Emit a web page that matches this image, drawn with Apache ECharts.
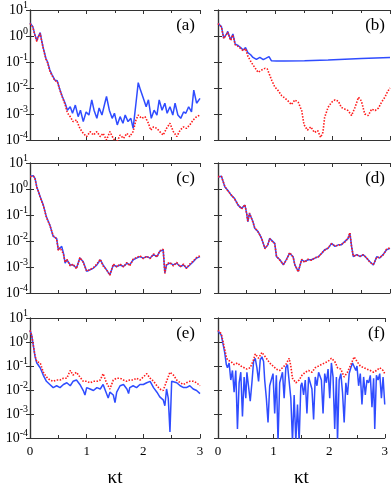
<!DOCTYPE html>
<html>
<head>
<meta charset="utf-8">
<script src="https://cdn.jsdelivr.net/npm/echarts@6/dist/echarts.min.js"></script>
<style>
html,body{margin:0;padding:0;background:#fff}
#main{width:391px;height:489px}
</style>
</head>
<body>
<div id="main"></div>
<script>
// panel tags and tick labels
var panelTags = ['(a)', '(b)', '(c)', '(d)', '(e)', '(f)'];
var xTicks = [0, 1, 2, 3];
var yTicks = [1e-4, 1e-3, 1e-2, 1e-1, 1, 10];
var xName = 'κt';

// [kappa t, value]
var aBlue = [[0,3.2],[0.05,2.3],[0.08,1.26],[0.12,0.66],[0.14,0.89],[0.18,1.35],[0.21,0.6],[0.235,0.34],[0.28,0.14],[0.31,0.1],[0.35,0.049],[0.39,0.032],[0.44,0.02],[0.48,0.019],[0.53,8.3e-3],[0.57,4.7e-3],[0.62,2.6e-3],[0.66,1.4e-3],[0.71,1.9e-3],[0.75,1.07e-3],[0.8,2.2e-3],[0.85,7.9e-4],[0.89,1.4e-3],[0.94,5.1e-4],[0.99,1.2e-3],[1.04,9.1e-4],[1.09,3.5e-3],[1.13,1.4e-3],[1.18,6.8e-4],[1.22,1.7e-3],[1.27,9.1e-4],[1.32,2.6e-3],[1.35,4.7e-3],[1.4,1.4e-3],[1.45,6.8e-4],[1.49,1.07e-3],[1.54,3.8e-4],[1.59,7.9e-4],[1.64,4.4e-4],[1.68,9.1e-4],[1.73,5.1e-4],[1.78,6.8e-4],[1.82,2.8e-4],[1.87,2.6e-3],[1.91,0.016],[1.95,8.3e-3],[2.0,4e-3],[2.05,1.9e-3],[2.09,3.5e-3],[2.14,6.8e-4],[2.19,1.4e-3],[2.24,9.1e-4],[2.28,3.5e-3],[2.33,1.4e-3],[2.38,2.6e-3],[2.42,1.07e-3],[2.47,1.9e-3],[2.52,9.1e-4],[2.56,2.6e-3],[2.61,9.1e-4],[2.66,6.8e-4],[2.71,1.2e-3],[2.75,1.07e-3],[2.8,1.9e-3],[2.85,1.2e-3],[2.89,8.3e-3],[2.94,2.6e-3],[3.0,4e-3]];
var aRed = [[0,3.0],[0.05,2.2],[0.08,1.2],[0.12,0.62],[0.14,0.85],[0.18,1.25],[0.21,0.58],[0.235,0.32],[0.28,0.13],[0.31,0.095],[0.35,0.045],[0.39,0.03],[0.44,0.019],[0.48,0.018],[0.53,8e-3],[0.57,4.5e-3],[0.62,2.3e-3],[0.66,1.1e-3],[0.71,7.9e-4],[0.76,5.1e-4],[0.82,5.9e-4],[0.88,2.8e-4],[0.94,1.8e-4],[1.0,1.35e-4],[1.06,2.1e-4],[1.12,1.55e-4],[1.18,2.1e-4],[1.24,1.35e-4],[1.29,1.8e-4],[1.35,1e-4],[1.41,2.1e-4],[1.47,1.15e-4],[1.53,8e-5],[1.59,1.55e-4],[1.65,1.15e-4],[1.71,1.8e-4],[1.76,1.35e-4],[1.82,2.1e-4],[1.87,5.9e-4],[1.91,9.1e-4],[1.97,6.8e-4],[2.03,7.9e-4],[2.09,4.4e-4],[2.13,2.4e-4],[2.18,3.2e-4],[2.24,2.8e-4],[2.29,2.1e-4],[2.35,1.55e-4],[2.41,2.8e-4],[2.47,4.4e-4],[2.53,2.1e-4],[2.59,1.35e-4],[2.65,2.4e-4],[2.71,3.2e-4],[2.76,2.8e-4],[2.82,3.8e-4],[2.88,5.9e-4],[2.94,7.9e-4],[3.0,9.1e-4]];

var bBlue = [[0,3.1],[0.06,2.3],[0.1,0.83],[0.15,1.2],[0.17,1.5],[0.22,0.71],[0.26,1.2],[0.3,0.49],[0.35,0.43],[0.4,0.35],[0.44,0.29],[0.48,0.36],[0.52,0.23],[0.57,0.19],[0.61,0.15],[0.67,0.126],[0.73,0.15],[0.79,0.123],[0.84,0.14],[0.89,0.16],[0.93,0.112],[1.02,0.11],[1.16,0.11],[1.51,0.112],[1.92,0.12],[2.5,0.135],[3.0,0.15]];
var bRed = [[0,3.0],[0.06,2.2],[0.1,0.8],[0.15,1.15],[0.17,1.4],[0.22,0.68],[0.26,1.1],[0.3,0.46],[0.35,0.4],[0.4,0.32],[0.44,0.27],[0.48,0.33],[0.52,0.17],[0.58,0.098],[0.64,0.062],[0.7,0.04],[0.76,0.049],[0.82,0.057],[0.86,0.054],[0.9,0.032],[0.94,0.019],[0.99,0.011],[1.05,7.9e-3],[1.11,5.1e-3],[1.16,4.2e-3],[1.22,3.2e-3],[1.28,2.3e-3],[1.34,3.5e-3],[1.4,2.8e-3],[1.46,1.35e-3],[1.5,3.9e-4],[1.56,2.4e-4],[1.62,3.2e-4],[1.68,1.95e-4],[1.74,2.3e-4],[1.79,1.26e-4],[1.83,1.95e-4],[1.86,7.4e-4],[1.92,1.8e-3],[1.98,2.8e-3],[2.04,3.5e-3],[2.1,3.1e-3],[2.15,1.8e-3],[2.21,1.55e-3],[2.27,1.35e-3],[2.33,8.7e-4],[2.39,1.8e-3],[2.45,4.4e-3],[2.5,3.2e-3],[2.56,1e-3],[2.62,8.7e-4],[2.68,1.55e-3],[2.74,1.35e-3],[2.8,1.7e-3],[2.85,2.8e-3],[2.91,4.4e-3],[2.96,7.4e-3],[3.0,0.01]];

var cBlue = [[0,3.1],[0.06,3.2],[0.09,2.5],[0.12,1.2],[0.15,0.78],[0.18,0.5],[0.21,0.43],[0.235,0.24],[0.29,0.085],[0.35,0.041],[0.41,0.015],[0.44,0.017],[0.47,0.0126],[0.5,4.6e-3],[0.53,5.2e-3],[0.56,6.2e-3],[0.59,3.4e-3],[0.62,1.4e-3],[0.65,1.9e-3],[0.71,1.2e-3],[0.76,1.2e-3],[0.82,9.1e-4],[0.88,2.2e-3],[0.94,1.6e-3],[1.0,6.8e-4],[1.06,7.8e-4],[1.12,9.1e-4],[1.18,1.2e-3],[1.24,1.9e-3],[1.29,1.2e-3],[1.35,7.8e-4],[1.41,5e-4],[1.47,1.2e-3],[1.53,1.05e-3],[1.59,1.2e-3],[1.65,1.05e-3],[1.71,1.4e-3],[1.76,1.2e-3],[1.82,1.9e-3],[1.88,2.2e-3],[1.94,2.5e-3],[2.0,2.2e-3],[2.06,2.5e-3],[2.12,2.2e-3],[2.18,3e-3],[2.24,2.5e-3],[2.29,4e-3],[2.35,4.6e-3],[2.38,5.9e-4],[2.41,1.2e-3],[2.47,1.4e-3],[2.53,1.2e-3],[2.59,1.4e-3],[2.65,1.05e-3],[2.71,1.2e-3],[2.76,9.1e-4],[2.82,1.2e-3],[2.88,1.6e-3],[2.94,2.2e-3],[3.0,2.5e-3]];
var cRed = [[0,3.0],[0.06,3.1],[0.09,2.4],[0.12,1.15],[0.15,0.8],[0.18,0.48],[0.21,0.44],[0.235,0.23],[0.29,0.08],[0.35,0.04],[0.41,0.016],[0.44,0.018],[0.47,0.012],[0.5,4.4e-3],[0.53,5.5e-3],[0.56,6.5e-3],[0.59,3.2e-3],[0.62,1.5e-3],[0.65,2e-3],[0.71,1.1e-3],[0.76,1.3e-3],[0.82,8.5e-4],[0.88,2.3e-3],[0.94,1.5e-3],[1.0,7e-4],[1.06,8e-4],[1.12,9.5e-4],[1.18,1.3e-3],[1.24,2e-3],[1.29,1.1e-3],[1.35,8e-4],[1.41,4.8e-4],[1.47,1.3e-3],[1.53,1e-3],[1.59,1.3e-3],[1.65,1e-3],[1.71,1.5e-3],[1.76,1.1e-3],[1.82,2e-3],[1.88,2.3e-3],[1.94,2.7e-3],[2.0,2.1e-3],[2.06,2.6e-3],[2.12,2.1e-3],[2.18,3.2e-3],[2.24,2.4e-3],[2.29,4.2e-3],[2.35,4.8e-3],[2.38,5.6e-4],[2.41,1.3e-3],[2.47,1.5e-3],[2.53,1.1e-3],[2.59,1.5e-3],[2.65,1e-3],[2.71,1.3e-3],[2.76,8.7e-4],[2.82,1.3e-3],[2.88,1.7e-3],[2.94,2.3e-3],[3.0,2.7e-3]];

var dBlue = [[0,2.9],[0.06,3.1],[0.12,1.2],[0.17,0.9],[0.23,0.58],[0.29,0.43],[0.35,0.24],[0.41,0.18],[0.47,0.24],[0.5,0.115],[0.52,0.055],[0.55,0.115],[0.58,0.115],[0.61,0.055],[0.64,0.031],[0.7,0.023],[0.76,0.0126],[0.82,5.2e-3],[0.87,7.1e-3],[0.9,0.0126],[0.93,0.011],[0.99,8.1e-3],[1.02,2.5e-3],[1.08,1.9e-3],[1.14,1.2e-3],[1.19,1.9e-3],[1.25,3.4e-3],[1.31,2.5e-3],[1.34,1.2e-3],[1.4,6.8e-4],[1.46,1.9e-3],[1.51,1.6e-3],[1.57,1.9e-3],[1.63,1.9e-3],[1.69,2.2e-3],[1.75,2.5e-3],[1.81,3.4e-3],[1.86,4.6e-3],[1.92,5.2e-3],[1.98,8.1e-3],[2.04,6.2e-3],[2.1,7.1e-3],[2.15,7.1e-3],[2.21,9.5e-3],[2.27,0.0126],[2.3,0.02],[2.33,6.2e-3],[2.36,2.5e-3],[2.42,3e-3],[2.48,2.5e-3],[2.53,3e-3],[2.59,2.2e-3],[2.65,1.6e-3],[2.71,1.2e-3],[2.77,2.5e-3],[2.82,2.2e-3],[2.88,3e-3],[2.94,4.6e-3],[3.0,5.2e-3]];
var dRed = [[0,3.0],[0.06,3.0],[0.12,1.25],[0.17,0.85],[0.23,0.6],[0.29,0.41],[0.35,0.25],[0.41,0.17],[0.47,0.25],[0.5,0.11],[0.52,0.058],[0.55,0.12],[0.58,0.11],[0.61,0.052],[0.64,0.033],[0.7,0.022],[0.76,0.013],[0.82,5e-3],[0.87,7.4e-3],[0.9,0.012],[0.93,0.0115],[0.99,7.8e-3],[1.02,2.6e-3],[1.08,1.8e-3],[1.14,1.25e-3],[1.19,1.8e-3],[1.25,3.6e-3],[1.31,2.4e-3],[1.34,1.25e-3],[1.4,6.5e-4],[1.46,2e-3],[1.51,1.5e-3],[1.57,2e-3],[1.63,1.8e-3],[1.69,2.3e-3],[1.75,2.4e-3],[1.81,3.5e-3],[1.86,4.4e-3],[1.92,5.5e-3],[1.98,7.8e-3],[2.04,6.5e-3],[2.1,6.8e-3],[2.15,7.4e-3],[2.21,9e-3],[2.27,0.013],[2.3,0.021],[2.33,6e-3],[2.36,2.6e-3],[2.42,2.9e-3],[2.48,2.6e-3],[2.53,2.9e-3],[2.59,2.3e-3],[2.65,1.5e-3],[2.71,1.25e-3],[2.77,2.4e-3],[2.82,2.3e-3],[2.88,2.9e-3],[2.94,4.8e-3],[3.0,5.5e-3]];

var eBlue = [[0,3.1],[0.03,1.9],[0.06,0.68],[0.09,0.24],[0.12,0.134],[0.18,0.085],[0.235,0.041],[0.29,0.023],[0.35,0.017],[0.41,0.0126],[0.47,0.015],[0.53,0.0126],[0.59,0.017],[0.65,0.02],[0.71,0.015],[0.76,0.023],[0.82,0.026],[0.88,0.017],[0.94,9.5e-3],[0.97,6.2e-3],[1.0,0.0126],[1.06,0.011],[1.12,9.5e-3],[1.18,0.0126],[1.24,0.011],[1.29,0.017],[1.35,7.1e-3],[1.38,4.6e-3],[1.41,8.1e-3],[1.47,6.2e-3],[1.5,3e-3],[1.53,8.1e-3],[1.59,0.015],[1.65,0.017],[1.71,0.011],[1.74,7.1e-3],[1.76,0.0126],[1.82,0.015],[1.88,0.0126],[1.94,0.017],[2.0,0.017],[2.06,0.02],[2.12,0.023],[2.18,0.0126],[2.24,8.1e-3],[2.29,5.2e-3],[2.35,3.9e-3],[2.38,2.2e-3],[2.41,0.011],[2.44,4.6e-3],[2.47,1.8e-4],[2.5,0.023],[2.53,0.026],[2.59,0.02],[2.65,0.015],[2.71,0.0126],[2.76,0.0126],[2.82,0.015],[2.88,0.011],[2.94,9.5e-3],[3.0,7.1e-3]];
var eRed = [[0,3.0],[0.03,1.9],[0.06,0.7],[0.09,0.26],[0.12,0.15],[0.18,0.134],[0.235,0.055],[0.29,0.035],[0.35,0.026],[0.41,0.023],[0.47,0.026],[0.53,0.026],[0.59,0.031],[0.65,0.031],[0.71,0.065],[0.76,0.042],[0.82,0.055],[0.88,0.035],[0.94,0.023],[1.0,0.023],[1.06,0.02],[1.12,0.023],[1.18,0.023],[1.24,0.026],[1.29,0.048],[1.35,0.02],[1.41,0.011],[1.47,0.026],[1.53,0.031],[1.59,0.031],[1.65,0.026],[1.71,0.023],[1.76,0.026],[1.82,0.026],[1.88,0.031],[1.94,0.026],[2.0,0.035],[2.06,0.048],[2.12,0.031],[2.18,0.023],[2.24,0.015],[2.29,0.011],[2.35,9.5e-3],[2.41,0.023],[2.47,0.055],[2.53,0.042],[2.59,0.026],[2.65,0.02],[2.71,0.017],[2.76,0.02],[2.82,0.023],[2.88,0.023],[2.94,0.02],[3.0,0.015]];

var fBlue = [[0,2.9],[0.06,1.9],[0.12,0.37],[0.15,0.115],[0.17,0.085],[0.2,0.134],[0.23,0.026],[0.26,0.065],[0.29,8.1e-3],[0.32,0.065],[0.35,2.4e-4],[0.38,0.02],[0.41,0.055],[0.44,7.8e-4],[0.47,0.035],[0.5,4.6e-3],[0.52,0.055],[0.55,0.048],[0.58,3.4e-3],[0.61,0.02],[0.64,0.155],[0.67,0.21],[0.7,0.085],[0.73,0.023],[0.76,0.18],[0.79,0.24],[0.82,0.155],[0.84,0.026],[0.87,4.6e-3],[0.9,4.4e-4],[0.93,0.015],[0.99,0.048],[1.02,1.05e-3],[1.05,0.041],[1.08,7e-5],[1.11,0.02],[1.16,0.055],[1.19,4.6e-3],[1.22,0.085],[1.25,0.115],[1.28,0.134],[1.31,4.6e-3],[1.34,7e-5],[1.37,6.2e-3],[1.4,7e-5],[1.43,2.5e-3],[1.46,7e-5],[1.49,0.015],[1.51,0.02],[1.54,6.2e-3],[1.57,0.026],[1.6,1.05e-3],[1.63,0.035],[1.69,0.011],[1.72,5.9e-4],[1.75,0.035],[1.78,0.015],[1.81,0.055],[1.86,0.026],[1.89,1.05e-3],[1.92,0.048],[1.95,0.02],[1.98,0.074],[2.01,4.6e-3],[2.04,0.134],[2.07,0.035],[2.1,2.4e-4],[2.13,0.035],[2.15,7e-5],[2.18,0.026],[2.21,0.048],[2.24,8.1e-3],[2.27,4.4e-4],[2.3,0.02],[2.33,6.2e-3],[2.36,0.048],[2.39,0.085],[2.42,0.134],[2.45,0.155],[2.48,0.065],[2.5,0.1],[2.53,0.015],[2.56,0.048],[2.59,2.5e-3],[2.62,0.035],[2.65,6.2e-3],[2.68,0.026],[2.71,0.02],[2.74,0.041],[2.77,1.9e-3],[2.8,0.031],[2.82,2.4e-4],[2.85,0.041],[2.88,0.026],[2.91,0.048],[2.94,4.6e-3],[2.97,0.035],[3.0,2.5e-3]];
var fRed = [[0,3.1],[0.06,2.2],[0.12,0.5],[0.15,0.24],[0.17,0.18],[0.23,0.155],[0.29,0.115],[0.35,0.134],[0.41,0.1],[0.47,0.085],[0.52,0.074],[0.58,0.085],[0.64,0.18],[0.67,0.32],[0.73,0.21],[0.79,0.37],[0.82,0.43],[0.87,0.21],[0.93,0.134],[0.99,0.1],[1.05,0.074],[1.11,0.065],[1.16,0.085],[1.22,0.115],[1.28,0.21],[1.31,0.1],[1.34,0.031],[1.4,0.02],[1.46,0.026],[1.51,0.041],[1.57,0.055],[1.63,0.065],[1.69,0.055],[1.75,0.085],[1.81,0.1],[1.86,0.115],[1.92,0.134],[1.98,0.155],[2.04,0.21],[2.1,0.155],[2.15,0.085],[2.21,0.074],[2.27,0.035],[2.33,0.055],[2.39,0.115],[2.45,0.24],[2.5,0.155],[2.56,0.1],[2.62,0.085],[2.68,0.074],[2.74,0.065],[2.8,0.055],[2.85,0.065],[2.91,0.085],[2.97,0.065],[3.0,0.048]];

var blueSets = [aBlue, bBlue, cBlue, dBlue, eBlue, fBlue];
var redSets = [aRed, bRed, cRed, dRed, eRed, fRed];

var chart = echarts.init(document.getElementById('main'));
var serif = 'Liberation Serif';
var axisCol = '#333';

var grid = [], xAxis = [], yAxis = [], series = [], graphic = [];

for (var i = 0; i < 6; i++) {
  var col = i % 2, row = Math.floor(i / 2);
  var gLeft = col === 0 ? 30 : 218;
  var gWidth = col === 0 ? 170 : 172;
  var gTop = [10, 163, 318][row];
  grid.push({ left: gLeft, top: gTop, width: gWidth, height: 130 });

  var bottomRow = row === 2;
  // bottom x axis
  xAxis.push({
    gridIndex: i, type: 'value', min: 0, max: 3, interval: 1,
    name: bottomRow ? xName : '', nameLocation: 'middle', nameGap: 31,
    nameTextStyle: { fontFamily: serif, fontSize: 19, color: '#000' },
    axisLine: { lineStyle: { color: axisCol, width: 1.2 } },
    axisTick: { inside: true, length: 4, lineStyle: { color: axisCol } },
    minorTick: { show: true, splitNumber: 2, length: 3, lineStyle: { color: axisCol } },
    axisLabel: {
      show: bottomRow, margin: 7, fontFamily: serif, fontSize: 13, color: '#000',
      formatter: function (v) { return xTicks.indexOf(v) >= 0 ? String(v) : ''; }
    },
    splitLine: { show: false }
  });
  // top x axis (frame)
  xAxis.push({
    gridIndex: i, type: 'value', min: 0, max: 3, interval: 1, position: 'top',
    axisLine: { lineStyle: { color: axisCol, width: 1.2 } },
    axisTick: { inside: true, length: 4, lineStyle: { color: axisCol } },
    minorTick: { show: true, splitNumber: 2, length: 3, lineStyle: { color: axisCol } },
    axisLabel: { show: false }, splitLine: { show: false }
  });
  // left y axis
  yAxis.push({
    gridIndex: i, type: 'log', logBase: 10, min: yTicks[0], max: yTicks[yTicks.length - 1],
    axisLine: { show: true, lineStyle: { color: axisCol, width: 1.2 } },
    axisTick: { show: true, inside: true, length: 4, lineStyle: { color: axisCol } },
    axisLabel: {
      show: col === 0, margin: 2,
      formatter: function (v) {
        var e = Math.round(Math.log(v) / Math.LN10);
        return '{b|10}{s|' + e + '}';
      },
      rich: {
        b: { fontFamily: serif, fontSize: 14, color: '#000' },
        s: { fontFamily: serif, fontSize: 10, color: '#000', padding: [0, 0, 9, 0] }
      }
    },
    splitLine: { show: false }
  });
  // right y axis (frame)
  yAxis.push({
    gridIndex: i, type: 'log', logBase: 10, min: yTicks[0], max: yTicks[yTicks.length - 1],
    position: 'right',
    axisLine: { show: true, lineStyle: { color: axisCol, width: 1.2 } },
    axisTick: { show: true, inside: true, length: 4, lineStyle: { color: axisCol } },
    axisLabel: { show: false }, splitLine: { show: false }
  });

  series.push({
    type: 'line', xAxisIndex: 2 * i, yAxisIndex: 2 * i, data: blueSets[i],
    showSymbol: false, clip: true, animation: false,
    lineStyle: { color: '#2f4cff', width: 1.5 }
  });
  series.push({
    type: 'line', xAxisIndex: 2 * i, yAxisIndex: 2 * i, data: redSets[i],
    showSymbol: false, clip: true, animation: false,
    lineStyle: { color: '#ff1a1a', width: 1.6, type: [1.5, 1.5] }
  });

  graphic.push({
    type: 'text', right: 391 - (gLeft + gWidth) + 5, top: gTop + 7,
    style: { text: panelTags[i], font: '17px "' + serif + '"', fill: '#000' }
  });
}

chart.setOption({
  animation: false,
  grid: grid, xAxis: xAxis, yAxis: yAxis, series: series, graphic: graphic
});
</script>
</body>
</html>
